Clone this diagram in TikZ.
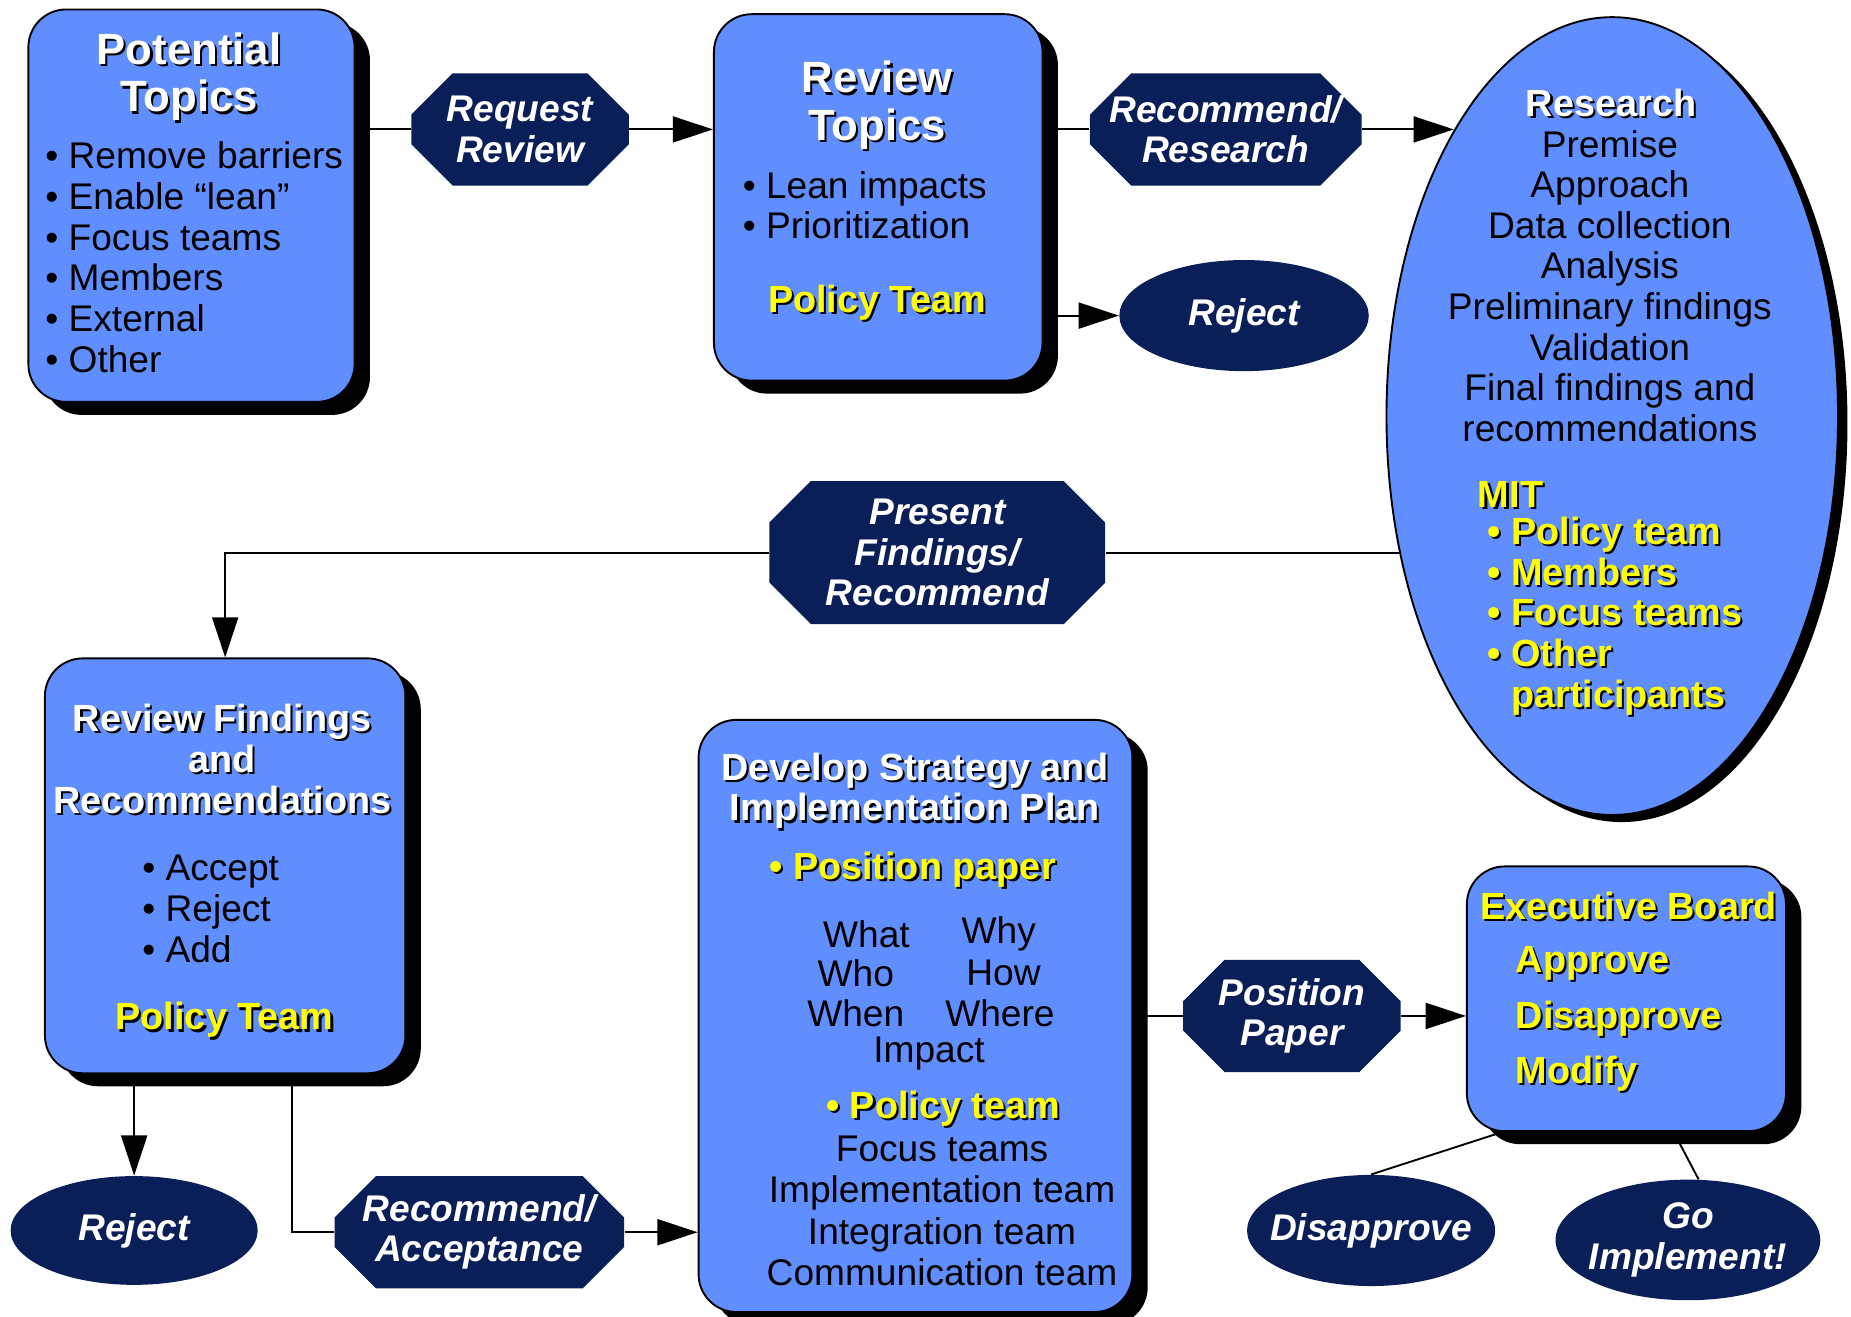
\documentclass[tikz,border=0pt]{standalone}
\usepackage{fontspec}
\setmainfont{Liberation Sans}
\usetikzlibrary{arrows.meta,shapes.geometric,shapes.misc,shadows}
\definecolor{boxblue}{RGB}{97,142,255}
\definecolor{navy}{RGB}{10,31,88}
\definecolor{teamyellow}{RGB}{255,255,0}
\newcommand\castshadow[2]{\leavevmode\rlap{\hspace{0.9pt}\raisebox{-0.9pt}{\color{black}#2}}\textcolor{#1}{#2}}
\newcommand\bodyfont{\fontsize{15.7}{17.2}\selectfont}
\newcommand\headfont{\fontsize{16}{17.2}\selectfont\bfseries}
\newcommand\bigheadfont{\fontsize{18.5}{20}\selectfont\bfseries}
\newcommand\labelfont{\fontsize{15.7}{17}\selectfont\bfseries\itshape}
\begin{document}
\begin{tikzpicture}[x=0.5pt,y=-0.5pt,
  box/.style={draw=black, line width=0.8pt, fill=boxblue, rounded corners=16pt,
    drop shadow={shadow xshift=6.5pt, shadow yshift=-5.5pt, fill=black, opacity=1}},
  octa/.style={chamfered rectangle, chamfered rectangle xsep=14pt, inner xsep=-9pt,
    fill=navy, text=white, font=\labelfont, align=center},
  oval/.style={ellipse, inner xsep=-12pt, inner ysep=-4pt, fill=navy, text=white,
    font=\labelfont, align=center},
  body/.style={font=\bodyfont, align=left, anchor=west},
  link/.style={line width=0.8pt},
  flow/.style={link, -{Triangle[length=17pt,width=11pt]}}]
\tikzstyle{every node}+=[inner sep=0pt]
\useasboundingbox (0,0) rectangle (1566,1114);

% boxes and ovals
\node[box, minimum width=138pt, minimum height=166pt] (topics) at (162,174) {};
\node[box, minimum width=139pt, minimum height=155pt] (review) at (743,167) {};
\node[box, minimum width=152.5pt, minimum height=175.5pt] (findings) at (190.5,732.5) {};
\node[box, minimum width=183.5pt, minimum height=250.5pt] (strategy) at (774.5,859.5) {};
\node[box, minimum width=135pt, minimum height=112pt] (board) at (1376,845) {};
\node[draw=black, line width=0.8pt, fill=boxblue, ellipse, minimum width=191pt, minimum height=337.5pt,
  drop shadow={shadow xshift=4pt, shadow yshift=-3pt, fill=black, opacity=1}] (research) at (1364,352) {};

\node[octa, minimum width=92pt, minimum height=47.5pt] (request) at (440,109.5) {Request\\Review};
\node[octa, minimum width=115pt, minimum height=47.5pt] (recres) at (1037,109.5) {Recommend/\\Research};
\node[octa, minimum width=142pt, minimum height=60.5pt] (present) at (793,467.5) {Present\\Findings/\\Recommend};
\node[octa, minimum width=122.5pt, minimum height=47.5pt] (recacc) at (405.5,1042.5) {Recommend/\\Acceptance};
\node[octa, minimum width=92pt, minimum height=47.5pt] (paper) at (1093,859.5) {Position\\Paper};

\node[oval, minimum width=105.5pt, minimum height=47pt] (reject) at (1052.5,267) {Reject};
\node[oval, minimum width=104.5pt, minimum height=46pt] (rejectb) at (113.5,1041) {Reject};
\node[oval, minimum width=105pt, minimum height=47pt] (disapprove) at (1160,1041) {Disapprove};
\node[oval, minimum width=112pt, minimum height=51pt] (golive) at (1428,1049) {Go\\Implement!};

% texts in the boxes
\node[font=\bigheadfont, align=center] (topics-head) at (160,66)
  {\castshadow{white}{Potential}\\\castshadow{white}{Topics}};
\node[body] (topics-list) at (38,217.5) {\textbullet\ Remove barriers\\\textbullet\ Enable “lean”\\
  \textbullet\ Focus teams\\\textbullet\ Members\\\textbullet\ External\\\textbullet\ Other};

\node[font=\bigheadfont, align=center] (review-head) at (742,90)
  {\castshadow{white}{Review}\\\castshadow{white}{Topics}};
\node[body] (review-list) at (628,173.5) {\textbullet\ Lean impacts\\\textbullet\ Prioritization};
\node[font=\headfont] (review-team) at (742,257) {\castshadow{teamyellow}{Policy Team}};

\node[font=\headfont] (research-head) at (1363,88) {\castshadow{white}{Research}};
\node[font=\bodyfont, align=center] (research-list) at (1362,242) {Premise\\Approach\\Data collection\\
  Analysis\\Preliminary findings\\Validation\\Final findings and\\recommendations};
\node[font=\headfont, anchor=west] (mit-head) at (1250,419) {\castshadow{teamyellow}{MIT}};
\node[font=\headfont, align=left, anchor=west] (mit-list) at (1258,522)
  {\castshadow{teamyellow}{\textbullet\ Policy team}\\\castshadow{teamyellow}{\textbullet\ Members}\\
  \castshadow{teamyellow}{\textbullet\ Focus teams}\\\castshadow{teamyellow}{\textbullet\ Other}\\
  \hphantom{\textbullet\ }\castshadow{teamyellow}{participants}};

\node[font=\headfont, align=center] (findings-head) at (188,643)
  {\castshadow{white}{Review Findings}\\\castshadow{white}{and}\\\castshadow{white}{Recommendations}};
\node[body] (findings-list) at (120,769) {\textbullet\ Accept\\\textbullet\ Reject\\\textbullet\ Add};
\node[font=\headfont] (findings-team) at (190,864) {\castshadow{teamyellow}{Policy Team}};

\node[font=\headfont, align=center] (strategy-head) at (774,670)
  {\castshadow{white}{Develop Strategy and}\\\castshadow{white}{Implementation Plan}};
\node[font=\headfont] (strategy-paper) at (772,737) {\castshadow{teamyellow}{\textbullet\ Position paper}};
\foreach \word/\x/\y [count=\i] in {What/733/790, Why/845/790, Who/724/823, How/849/823,
  When/724/857, Where/846/857, Impact/786/891}
  \node[font=\bodyfont] (q\i) at (\x,\y) {\word};
\node[font=\headfont] (strategy-team) at (798,939) {\castshadow{teamyellow}{\textbullet\ Policy team}};
\node[font=\fontsize{15.7}{17.5}\selectfont, align=center] (strategy-list) at (797,1024.5)
  {Focus teams\\Implementation team\\Integration team\\Communication team};

\node[font=\headfont] (board-head) at (1378,767) {\castshadow{teamyellow}{Executive Board}};
\node[font=\fontsize{16}{23.5}\selectfont\bfseries, align=left, anchor=west] (board-list) at (1282,863)
  {\castshadow{teamyellow}{Approve}\\\castshadow{teamyellow}{Disapprove}\\\castshadow{teamyellow}{Modify}};

% connectors
\draw[link] (topics.east |- request.west) -- (request.west);
\draw[flow] (request.east) -- (request.east -| review.west);
\draw[link] (review.east |- recres.west) -- (recres.west);
\draw[flow] (recres.east) -- (recres.east -| research.119);
\draw[flow] (review.east |- reject.west) -- (reject.west);
\draw[link] (research.213 |- present.east) -- (present.east);
\draw[flow] (present.west) -| (findings.north);
\draw[flow] (findings.south -| rejectb.north) -- (rejectb.north);
\draw[link] ([xshift=28.25pt]findings.south) |- (recacc.west);
\draw[flow] (recacc.east) -- (recacc.east -| strategy.west);
\draw[link] (strategy.east |- paper.west) -- (paper.west);
\draw[flow] (paper.east) -- (paper.east -| board.west);
\draw[link] (board.227) -- (disapprove.north);
\draw[link] ([xshift=20pt]board.south) -- (golive.80);
\end{tikzpicture}
\end{document}
